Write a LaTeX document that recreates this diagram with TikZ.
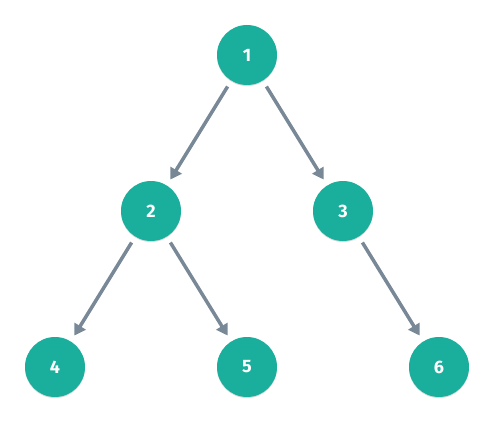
\documentclass[tikz,border=0pt]{standalone}
\usepackage{fontspec}
\setmainfont{Fira Sans}
\usetikzlibrary{arrows.meta,shadows}
\definecolor{teal}{HTML}{1AAE9C}
\definecolor{edgec}{HTML}{788896}
\begin{document}
\begin{tikzpicture}[x=1pt,y=-1pt,
  vert/.style={circle,fill=teal,minimum size=60pt,inner sep=0pt,outer sep=7pt,
    text=white,font=\fontsize{18}{18}\selectfont\bfseries,
    drop shadow={shadow xshift=0pt,shadow yshift=-1pt,opacity=0.15,fill=black}},
  link/.style={draw=edgec,line width=3.5pt,-{Triangle[length=11pt,width=13pt]}}]
\useasboundingbox (0,0) rectangle (494,422);
\node[vert] (n1) at (247,55) {1};
\node[vert] (n2) at (151,211) {2};
\node[vert] (n3) at (343,211) {3};
\node[vert] (n4) at (55,367) {4};
\node[vert] (n5) at (247,367) {5};
\node[vert] (n6) at (439,367) {6};
\draw[link] (n1) -- (n2);
\draw[link] (n1) -- (n3);
\draw[link] (n2) -- (n4);
\draw[link] (n2) -- (n5);
\draw[link] (n3) -- (n6);
\end{tikzpicture}
\end{document}
